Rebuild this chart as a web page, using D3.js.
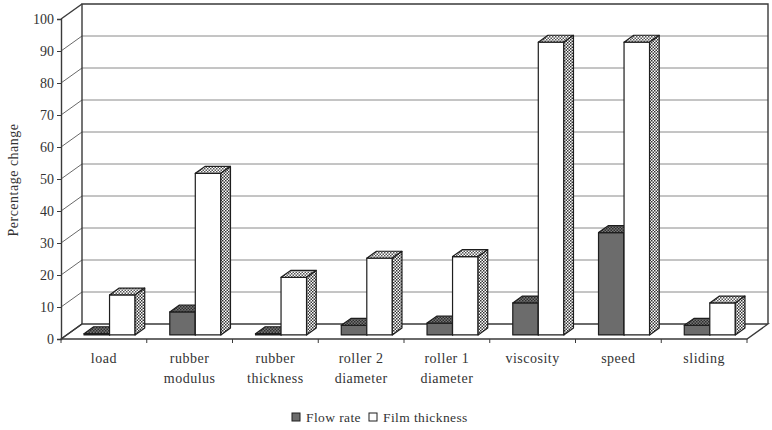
<!DOCTYPE html>
<html>
<head>
<meta charset="utf-8">
<script src="https://cdn.jsdelivr.net/npm/d3@7"></script>
<style>
  html, body { margin: 0; padding: 0; background: #fff; }
  svg { display: block; }
</style>
</head>
<body>
<svg id="chart" width="772" height="430"></svg>
<script>
// Percentage change of flow rate and film thickness per parameter
const categories = [["load"], ["rubber", "modulus"], ["rubber", "thickness"], ["roller 2", "diameter"],
                    ["roller 1", "diameter"], ["viscosity"], ["speed"], ["sliding"]];
const seriesNames = ["Flow rate", "Film thickness"];
const flowRate = [0.4, 7.2, 0.4, 3, 3.7, 10, 32, 3];
const filmThickness = [12.5, 50.5, 18, 24, 24.5, 91.5, 91.5, 10];
const yTicks = [0, 10, 20, 30, 40, 50, 60, 70, 80, 90, 100];

const FONT = "'Liberation Serif'";
const TEXT = "#333333";

const svg = d3.select("#chart");

// 3-D box geometry: front plane and oblique depth offset
const x0 = 61, x1 = 747, yFloor = 339, yTop = 19;
const DX = 21, DY = 15;
const barDepth = [0.27, 0.73];

const y = d3.scaleLinear().domain([0, 100]).range([yFloor, yTop]);
const keys = categories.map((c, i) => i);
const x = d3.scaleBand().domain(keys).range([x0, x1]).padding(0);
const xs = d3.scaleBand().domain([0, 1]).range([0, x.bandwidth()]).paddingInner(0).paddingOuter(0.68);

const P = (px, v, f) => [px + f * DX, y(v) - f * DY];

// patterns for shaded faces
const defs = svg.append("defs");
function checker(id, bg, fg, size) {
  const p = defs.append("pattern").attr("id", id).attr("width", size * 2).attr("height", size * 2)
    .attr("patternUnits", "userSpaceOnUse");
  p.append("rect").attr("width", size * 2).attr("height", size * 2).attr("fill", bg);
  p.append("rect").attr("width", size).attr("height", size).attr("fill", fg);
  p.append("rect").attr("x", size).attr("y", size).attr("width", size).attr("height", size).attr("fill", fg);
}
checker("sideWhite", "#ffffff", "#333333", 1.5);
checker("topWhite", "#ffffff", "#555555", 1.5);
checker("topDark", "#777777", "#2e2e2e", 1.5);

const wall = svg.append("g");
const lineCol = "#3a3a3a";

// floor
wall.append("path")
  .attr("d", d3.line()([P(x0, 0, 0), P(x1, 0, 0), P(x1, 0, 1), P(x0, 0, 1)]) + "Z")
  .attr("fill", "#fff").attr("stroke", lineCol).attr("stroke-width", 1.3);

// back-wall gridlines and side-wall diagonals
yTicks.forEach(t => {
  const a = P(x0, t, 1), b = P(x1, t, 1);
  if (t > 0 && t < 100) {
    wall.append("line").attr("x1", a[0]).attr("y1", a[1]).attr("x2", b[0]).attr("y2", b[1])
      .attr("stroke", "#8a8a8a").attr("stroke-width", 1);
  }
  const f = P(x0, t, 0);
  wall.append("line").attr("x1", f[0]).attr("y1", f[1]).attr("x2", a[0]).attr("y2", a[1])
    .attr("stroke", t === 0 || t === 100 ? lineCol : "#6a6a6a").attr("stroke-width", t === 0 || t === 100 ? 1.4 : 1);
});

// wall outlines
const bl = P(x0, 0, 1), tl = P(x0, 100, 1), tr = P(x1, 100, 1), br = P(x1, 0, 1);
wall.append("path").attr("d", d3.line()([bl, tl, tr, br]))
  .attr("fill", "none").attr("stroke", lineCol).attr("stroke-width", 1.4);

// value axis
const yAxisG = svg.append("g").attr("transform", `translate(${x0},0)`)
  .call(d3.axisLeft(y).tickValues(yTicks).tickSize(4).tickPadding(3).tickFormat(d3.format("d")));
yAxisG.attr("font-family", null).attr("font-size", null);
yAxisG.select(".domain").attr("stroke", lineCol).attr("stroke-width", 1.4);
yAxisG.selectAll(".tick line").attr("stroke", lineCol);
yAxisG.selectAll(".tick text").attr("fill", TEXT).style("font-family", FONT).style("font-size", "14px");

// category axis ticks at band boundaries
const bounds = keys.map(k => x(k)).concat([x1]);
svg.append("g").selectAll("line").data(bounds).join("line")
  .attr("x1", d => d).attr("x2", d => d).attr("y1", yFloor).attr("y2", yFloor + 4)
  .attr("stroke", lineCol);

// bars
const bars = svg.append("g");
function drawBar(i, s, v) {
  const left = x(i) + xs(s), right = left + xs.bandwidth();
  const [f0, f1] = barDepth;
  const fbl = P(left, 0, f0), fbr = P(right, 0, f0), ftl = P(left, v, f0), ftr = P(right, v, f0);
  const btl = P(left, v, f1), btr = P(right, v, f1), bbr = P(right, 0, f1);
  const dark = s === 0;
  const g = bars.append("g").attr("stroke", "#1e1e1e").attr("stroke-width", 1.2).attr("stroke-linejoin", "round");
  g.append("path").attr("d", d3.line()([fbl, fbr, ftr, ftl]) + "Z")
    .attr("fill", dark ? "#6c6c6c" : "#ffffff");
  g.append("path").attr("d", d3.line()([ftl, ftr, btr, btl]) + "Z")
    .attr("fill", dark ? "url(#topDark)" : "url(#topWhite)");
  g.append("path").attr("d", d3.line()([fbr, bbr, btr, ftr]) + "Z")
    .attr("fill", dark ? "#4a4a4a" : "url(#sideWhite)");
}
keys.forEach(i => {
  drawBar(i, 0, flowRate[i]);
  drawBar(i, 1, filmThickness[i]);
});

// category labels
const lab = svg.append("g");
categories.forEach((lines, i) => {
  const cx = x(i) + x.bandwidth() / 2;
  const t = lab.append("text").attr("text-anchor", "middle")
    .style("font-family", FONT).style("font-size", "14px").attr("fill", TEXT)
    .attr("letter-spacing", 0.5);
  lines.forEach((ln, j) => {
    t.append("tspan").attr("x", cx).attr("y", 363 + j * 20).text(ln);
  });
});

// value axis title
svg.append("text").attr("transform", "translate(18,180) rotate(-90)")
  .attr("text-anchor", "middle").style("font-family", FONT).style("font-size", "14px")
  .attr("fill", TEXT).attr("letter-spacing", 0.5)
  .text("Percentage change");

// legend
const leg = svg.append("g").attr("transform", "translate(292,413)");
const legX = [0, 77];
seriesNames.forEach((n, i) => {
  leg.append("rect").attr("x", legX[i]).attr("y", 0).attr("width", 8).attr("height", 8)
    .attr("fill", i === 0 ? "#6c6c6c" : "#fff").attr("stroke", "#1e1e1e").attr("stroke-width", 1);
  leg.append("text").attr("x", legX[i] + 14).attr("y", 9)
    .style("font-family", FONT).style("font-size", "13.5px").attr("fill", TEXT)
    .attr("letter-spacing", 0.4).text(n);
});
</script>
</body>
</html>
